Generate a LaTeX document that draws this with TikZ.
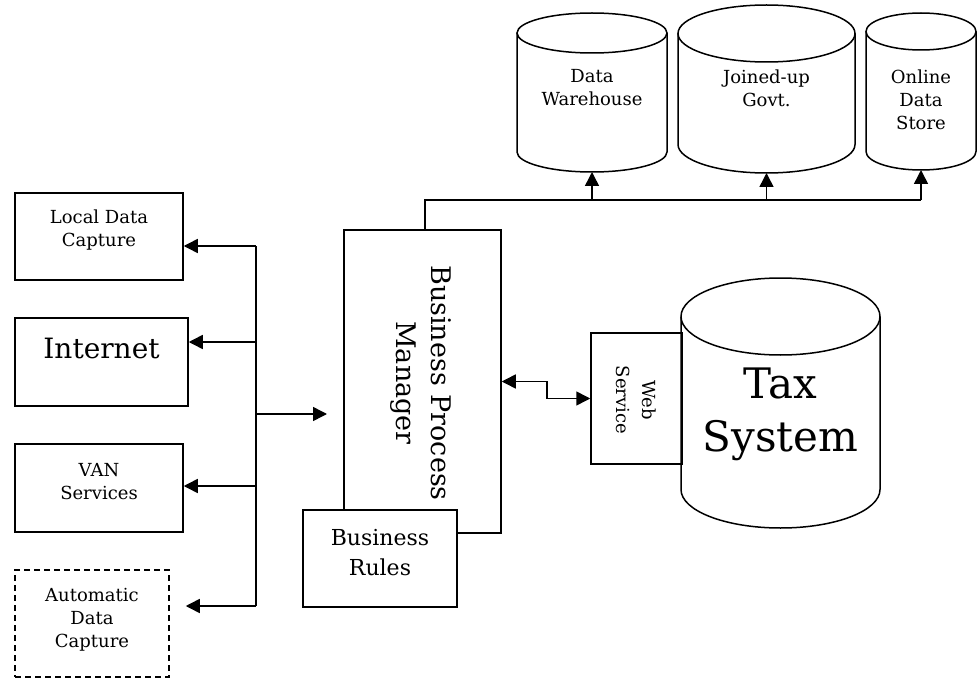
\documentclass[tikz,border=0pt]{standalone}
\usepackage{fontspec}
\setmainfont{DejaVu Serif}
\usetikzlibrary{arrows.meta,positioning}

% drum: name, centre x, top y, bottom y, x radius, y radius
\newcommand{\drum}[6]{%
  \draw (#2,#3) ellipse[x radius=#5pt, y radius=#6pt];
  \draw (#2-#5,#3) -- (#2-#5,#4) arc[start angle=180, end angle=360, x radius=#5pt, y radius=#6pt] -- (#2+#5,#3);
  \coordinate (#1) at (#2,#4+#6);
}

\begin{document}
\begin{tikzpicture}[x=1pt,y=-1pt,line width=1.5pt,>={Triangle[length=14pt,width=14pt]},
    box/.style={draw,rectangle,fill=white,align=center,inner sep=0pt},
    small/.style={font=\fontsize{18}{23}\selectfont},
    lbl/.style={align=center,font=\fontsize{18}{23}\selectfont}]
    \useasboundingbox (0,0) rectangle (977,679);

      % stores at the top
      \drum{dwb}{592}{33}{152}{75}{20}
      \drum{jgb}{766.5}{33.5}{144.5}{88.5}{28.5}
      \drum{odsb}{921}{31.5}{151.5}{55}{18.5}
      \node[lbl] (dw) at (592,88) {Data\\Warehouse};
      \node[lbl] (jg) at (766.5,88) {Joined-up\\Govt.};
      \node[lbl] (ods) at (921,100) {Online\\Data\\Store};

      % capture channels
      \node[box,small,text depth=16pt,minimum width=168,minimum height=87] (ldc) at (99,236.5) {Local Data\\Capture};
      \node[box,font=\fontsize{28}{34}\selectfont,text depth=28pt,minimum width=173,minimum height=88] (inet) at (101.5,362) {Internet};
      \node[box,small,text depth=14pt,minimum width=168,minimum height=88] (van) at (99,488) {VAN\\Services};
      \node[box,small,text depth=12pt,dashed,dash pattern=on 6pt off 4pt,minimum width=154,minimum height=107] (adc) at (92,623.5) {Automatic\\Data\\Capture};

      % process manager
      \node[box,minimum width=157,minimum height=303] (bpm) at (422.5,381.5) {};
      \node[rotate=-90,align=center,font=\fontsize{27}{35}\selectfont] (bpmtext) at (421,383) {Business Process\\Manager};
      \node[box,font=\fontsize{22}{30}\selectfont,text depth=12pt,minimum width=154,minimum height=97] (rules) at (380,558.5) {Business\\Rules};

      % tax system
      \node[box,minimum width=91,minimum height=131] (ws) at (636.5,398.5) {};
      \node[rotate=-90,align=center,font=\fontsize{18}{26}\selectfont] (wstext) at (636,400) {Web\\Service};
      \drum{taxb}{780.5}{316.5}{489.5}{99.5}{38.5}
      \node[align=center,font=\fontsize{42}{53}\selectfont] (tax) at (780.5,414) {Tax\\System};

      % bus on the left
      \coordinate (b1) at (256,246);
      \coordinate (b2) at (256,342);
      \coordinate (b3) at (256,486);
      \coordinate (b4) at (256,606);
      \coordinate (hub) at (256,414);
      \coordinate (bpmin) at (327,414);
      \draw (b1) -- (b4);
      \draw[->] (b1) -- (b1 -| ldc.east);
      \draw[->] (b2) -- (b2 -| inet.east);
      \draw[->] (b3) -- (b3 -| van.east);
      \draw[->, shorten >=16pt] (b4) -- (b4 -| adc.east);
      \draw[->] (hub) -- (bpmin);

      % bus to the stores
      \coordinate (tb) at (0,200);
      \draw[line width=2.5pt] ([xshift=2.5pt]bpm.north) |- (dwb |- tb);
      \draw (dwb |- tb) -- (odsb |- tb);
      \draw[->] (dwb |- tb) -- (dwb);
      \draw[->] (jgb |- tb) -- (jgb);
      \draw[->] (odsb |- tb) -- (odsb);

      % link to the web service
      \draw[<->] (bpm.east) -- ++(45,0) |- (ws.west);
    \end{tikzpicture}
\end{document}
